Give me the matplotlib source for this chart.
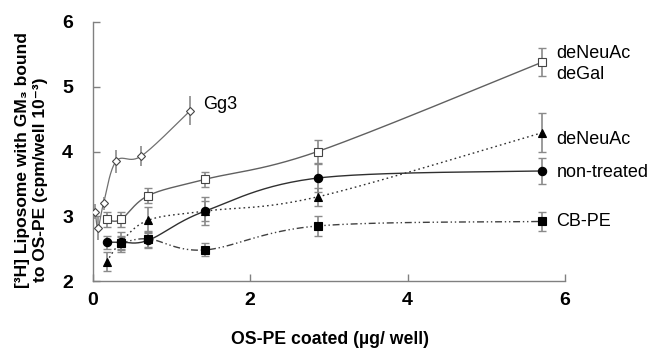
import numpy as np
import matplotlib
matplotlib.use("Agg")
import matplotlib.pyplot as plt

plt.rcParams['font.family'] = ['Liberation Sans', 'DejaVu Sans']

# ---- data ----
x_main = [0.18, 0.36, 0.71, 1.43, 2.86, 5.71]
nontreated_y = [2.60, 2.60, 2.63, 3.08, 3.59, 3.70]
nontreated_err = [0.10, 0.10, 0.12, 0.22, 0.22, 0.20]
degal_y = [2.95, 2.95, 3.32, 3.57, 4.00, 5.38]
degal_err = [0.12, 0.12, 0.12, 0.12, 0.18, 0.22]
deneuac_y = [2.30, 2.60, 2.94, 3.08, 3.30, 4.29]
deneuac_err = [0.15, 0.15, 0.20, 0.15, 0.14, 0.30]
x_cbpe = [0.36, 0.71, 1.43, 2.86, 5.71]
cbpe_y = [2.58, 2.65, 2.48, 2.85, 2.92]
cbpe_err = [0.10, 0.12, 0.10, 0.15, 0.15]
x_gg3 = [0.035, 0.07, 0.14, 0.30, 0.62, 1.24]
gg3_y = [3.07, 2.82, 3.20, 3.85, 3.93, 4.63]
gg3_err = [0.12, 0.18, 0.10, 0.18, 0.15, 0.22]

xticks = [0, 2, 4, 6]
yticks = [2, 3, 4, 5, 6]

W, H = 647, 349
fig = plt.figure(figsize=(W/100, H/100), dpi=100)
ax = fig.add_axes([92.5/W, 1-281/H, (565-92.5)/W, (281-22)/H])
ax.set_xlim(0, 6)
ax.set_ylim(2, 6)

SX, SY = 78.7, 64.7  # approximate pixel scale for smoothing


def smooth(x, y, n=30):
    p = np.column_stack([np.asarray(x)*SX, np.asarray(y)*SY])
    out = [p[0]]
    m = len(p)
    for i in range(m-1):
        p0 = p[i-1] if i > 0 else p[i]
        p1 = p[i]
        p2 = p[i+1]
        p3 = p[i+2] if i+2 < m else p[i+1]
        c1 = p1 + (p2 - p0)/6
        c2 = p2 - (p3 - p1)/6
        t = np.linspace(0, 1, n)[1:, None]
        seg = ((1-t)**3)*p1 + 3*((1-t)**2)*t*c1 + 3*(1-t)*t**2*c2 + t**3*p2
        out.extend(seg)
    out = np.array(out)
    return out[:, 0]/SX, out[:, 1]/SY

ecol = '#8a8a8a'

def series(x, y, err, marker, mfc, ls, lc, lw=1.0, ms=6, caps=3):
    sx, sy = smooth(x, y)
    ax.plot(sx, sy, linestyle=ls, color=lc, lw=lw, zorder=2)
    ax.errorbar(x, y, yerr=err, fmt='none', ecolor=ecol, elinewidth=1.2,
                capsize=caps, capthick=1.0, zorder=3)
    ax.plot(x, y, linestyle='none', marker=marker, ms=ms, mfc=mfc,
            mec='black' if mfc != 'white' else '#444444', mew=0.8, zorder=4)

series(x_gg3, gg3_y, gg3_err, 'D', 'white', '-', '#707070', lw=0.9, ms=4.5, caps=0)
series(x_main, degal_y, degal_err, 's', 'white', '-', '#606060', lw=1.0, ms=6)
series(x_main, deneuac_y, deneuac_err, '^', 'black', (0, (1.2, 2.2)), '#303030', lw=1.0, ms=6)
series(x_main, nontreated_y, nontreated_err, 'o', 'black', '-', '#303030', lw=1.0, ms=6)
series(x_cbpe, cbpe_y, cbpe_err, 's', 'black', (0, (5, 2, 1, 2, 1, 2)), '#404040', lw=1.0, ms=6)

# labels on chart
lab_kw = dict(fontsize=13, color='black', clip_on=False, va='center', ha='left')
ax.text(5.89, 5.52, 'deNeuAc', **lab_kw)
ax.text(5.89, 5.19, 'deGal', **lab_kw)
ax.text(5.89, 4.18, 'deNeuAc', **lab_kw)
ax.text(5.89, 3.68, 'non-treated', **lab_kw)
ax.text(5.89, 2.92, 'CB-PE', **lab_kw)
ax.text(1.40, 4.72, 'Gg3', **lab_kw)

# axes styling
for s in ['top', 'right']:
    ax.spines[s].set_visible(False)
for s in ['left', 'bottom']:
    ax.spines[s].set_color('#808080')
    ax.spines[s].set_linewidth(1.0)
ax.set_xticks(xticks)
ax.set_yticks(yticks)
ax.tick_params(direction='in', length=5, color='#808080', width=1.0,
               labelsize=14)
for lbl in ax.get_xticklabels() + ax.get_yticklabels():
    lbl.set_fontweight('bold')
ax.tick_params(axis='y', pad=14)
ax.tick_params(axis='x', pad=8)

fig.text(23/W, 1-160/H, '[³H] Liposome with GM₃ bound', rotation=90,
         fontsize=12.5, fontweight='bold', ha='center', va='center')
fig.text(41/W, 1-180/H, 'to OS-PE (cpm/well 10⁻³)', rotation=90,
         fontsize=12.5, fontweight='bold', ha='center', va='center')
fig.text(330/W, 1-340/H, 'OS-PE coated (µg/ well)', fontsize=12.7,
         fontweight='bold', ha='center', va='center')

fig.savefig('out.png', dpi=100)
